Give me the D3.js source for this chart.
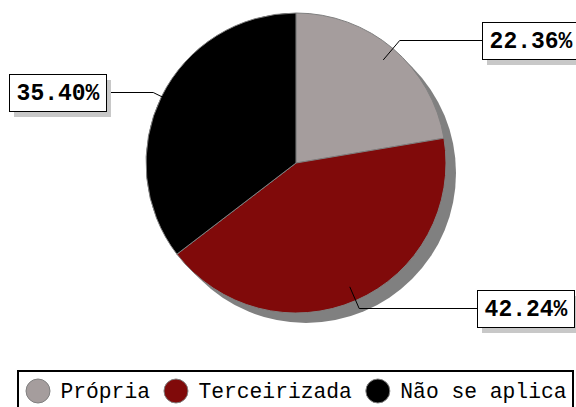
<!DOCTYPE html>
<html>
<head>
  <meta charset="utf-8">
  <script src="https://d3js.org/d3.v7.min.js"></script>
  <style>
    body { margin: 0; background: #fff; }
  </style>
</head>
<body>
  <svg id="chart" width="576" height="407"></svg>
  <script>
    // data
    const categories = ["Própria", "Terceirizada", "Não se aplica"];
    const values = [22.36, 42.24, 35.40];
    const colors = ["#a59d9d", "#800a0a", "#000000"];

    const svg = d3.select("svg#chart");
    const cx = 296, cy = 163, radius = 150;

    const pie = d3.pie().sort(null).value(d => d);
    const arcs = pie(values);
    const arc = d3.arc().innerRadius(0).outerRadius(radius);

    // shadow under the pie
    svg.append("circle")
      .attr("cx", cx + 10)
      .attr("cy", cy + 10)
      .attr("r", radius)
      .attr("fill", "#808080");

    const g = svg.append("g")
      .attr("transform", `translate(${cx},${cy})`);

    g.selectAll("path.slice")
      .data(arcs)
      .enter().append("path")
      .attr("class", "slice")
      .attr("d", arc)
      .attr("fill", (d, i) => colors[i])
      .attr("stroke", "#808080")
      .attr("stroke-width", 1);

    // label boxes: where the box sits and which side the line comes from
    const boxW = 97, boxH = 37;
    const labelLayout = [
      { x: 482, y: 22, side: "right", inner: 0.9 },
      { x: 477, y: 290, side: "right", inner: 0.9 },
      { x: 9, y: 74, side: "left", inner: 0.98 }
    ];

    const pointAt = (angle, r) => [cx + r * Math.sin(angle), cy - r * Math.cos(angle)];

    arcs.forEach((d, i) => {
      const lay = labelLayout[i];
      const mid = (d.startAngle + d.endAngle) / 2;
      const p0 = pointAt(mid, radius * lay.inner);
      const p1 = pointAt(mid, radius * 1.06);
      const yLine = lay.y + boxH / 2;
      const xEnd = lay.side === "right" ? lay.x : lay.x + boxW;
      // elbow: where the radial line meets the horizontal one
      const elbow = [p0[0] + (p1[0] - p0[0]) * (yLine - p0[1]) / (p1[1] - p0[1]), yLine];

      svg.append("polyline")
        .attr("points", [p0, elbow, [xEnd, yLine]].map(p => p.join(",")).join(" "))
        .attr("fill", "none")
        .attr("stroke", "#000")
        .attr("stroke-width", 1);

      svg.append("rect")
        .attr("x", lay.x + 5)
        .attr("y", lay.y + 6)
        .attr("width", boxW)
        .attr("height", boxH)
        .attr("fill", "#c8c8c8");
      svg.append("rect")
        .attr("x", lay.x + 0.5)
        .attr("y", lay.y + 0.5)
        .attr("width", boxW)
        .attr("height", boxH)
        .attr("fill", "#fff")
        .attr("stroke", "#000")
        .attr("stroke-width", 1);
      svg.append("text")
        .attr("x", lay.x + boxW / 2 + 0.5)
        .attr("y", lay.y + 26)
        .attr("text-anchor", "middle")
        .style("font-family", "'Liberation Mono', 'Courier New', monospace")
        .style("font-weight", "bold")
        .style("font-size", "23px")
        .text(d3.format(".2f")(values[i]) + "%");
    });

    // legend
    const legend = svg.append("g");
    legend.append("rect")
      .attr("x", 18)
      .attr("y", 371)
      .attr("width", 555)
      .attr("height", 50)
      .attr("fill", "#fff")
      .attr("stroke", "#000")
      .attr("stroke-width", 2);

    let lx = 38;
    categories.forEach((c, i) => {
      legend.append("circle")
        .attr("cx", lx)
        .attr("cy", 391)
        .attr("r", 12)
        .attr("fill", colors[i])
        .attr("stroke", "#808080")
        .attr("stroke-width", 1);
      const t = legend.append("text")
        .attr("x", lx + 22.5)
        .attr("y", 398)
        .style("font-family", "'Liberation Mono', 'Courier New', monospace")
        .style("font-size", "21.3px")
        .text(c);
      lx = lx + 22.5 + t.node().getComputedTextLength() + 26;
    });
  </script>
</body>
</html>
